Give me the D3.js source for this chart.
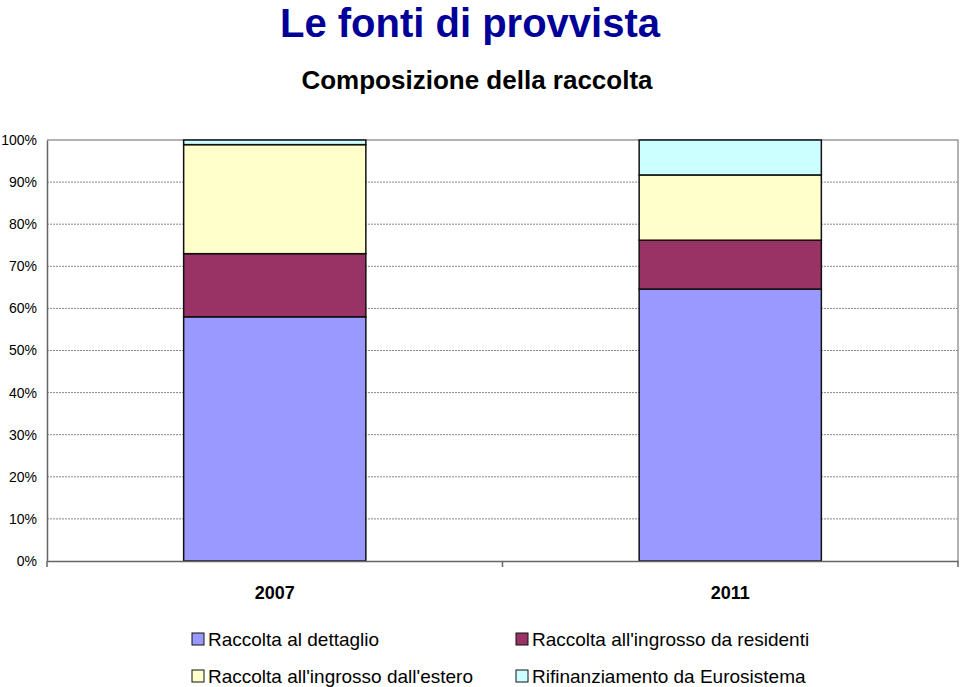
<!DOCTYPE html>
<html>
<head>
<meta charset="utf-8">
<script src="https://cdn.jsdelivr.net/npm/d3@7"></script>
<style>
  body { margin: 0; background: #fff; }
  text { font-family: "Liberation Sans", Arial, sans-serif; }
</style>
</head>
<body>
<svg class="chart" width="960" height="687"></svg>
<script>
const years = ['2007', '2011'];
const series = [
  'Raccolta al dettaglio',
  "Raccolta all'ingrosso da residenti",
  "Raccolta all'ingrosso dall'estero",
  'Rifinanziamento da Eurosistema'
];
const colors = ['#9999ff', '#993366', '#ffffcc', '#ccffff'];
// percentage shares, per series, per year
const dettaglio = [58.0, 64.6];
const residenti = [15.0, 11.6];
const estero = [25.9, 15.5];
const eurosistema = [1.1, 8.3];
const yTicks = [0, 10, 20, 30, 40, 50, 60, 70, 80, 90, 100];

const svg = d3.select('.chart');
const margin = { left: 47, right: 2, top: 140, bottom: 126 };
const [width, height] = [960, 687];

const rows = years.map((year, i) => ({
  year,
  [series[0]]: dettaglio[i],
  [series[1]]: residenti[i],
  [series[2]]: estero[i],
  [series[3]]: eurosistema[i]
}));
const stacked = d3.stack().keys(series)(rows);

const x = d3.scaleBand().domain(years)
  .range([margin.left, width - margin.right])
  .paddingInner(0).paddingOuter(0);
const y = d3.scaleLinear().domain([0, 100]).range([height - margin.bottom, margin.top]);
const barW = x.bandwidth() * 0.4;

svg.append('text')
  .attr('x', 470).attr('y', 37)
  .attr('text-anchor', 'middle')
  .style('font-size', '40px').style('font-weight', 'bold').style('fill', '#000099')
  .text('Le fonti di provvista');

svg.append('text')
  .attr('x', 477).attr('y', 89)
  .attr('text-anchor', 'middle')
  .style('font-size', '26px').style('font-weight', 'bold')
  .text('Composizione della raccolta');

// gridlines
svg.append('g').selectAll('line')
  .data(yTicks.filter(d => d > 0 && d < 100))
  .enter().append('line')
  .attr('x1', margin.left).attr('x2', width - margin.right)
  .attr('y1', d => y(d)).attr('y2', d => y(d))
  .attr('stroke', '#888').attr('stroke-dasharray', '2,1').attr('stroke-width', 1);

// plot frame top/right
svg.append('path')
  .attr('d', `M${margin.left},${y(100)}H${width - margin.right}V${y(0)}`)
  .attr('fill', 'none').attr('stroke', '#999').attr('stroke-width', 1.5);

// bars
svg.append('g').selectAll('g')
  .data(stacked)
  .enter().append('g')
  .attr('fill', (d, i) => colors[i])
  .selectAll('rect')
  .data(d => d)
  .enter().append('rect')
  .attr('x', d => x(d.data.year) + (x.bandwidth() - barW) / 2)
  .attr('width', barW)
  .attr('y', d => y(d[1]))
  .attr('height', d => y(d[0]) - y(d[1]))
  .attr('stroke', '#111').attr('stroke-width', 1.5);

// y axis
const yAxis = svg.append('g')
  .attr('transform', `translate(${margin.left},0)`)
  .call(d3.axisLeft(y).tickValues(yTicks).tickFormat(d => d + '%').tickSize(0).tickPadding(10));
yAxis.select('.domain').attr('stroke', '#666').attr('stroke-width', 1.5);
yAxis.selectAll('text').style('font-size', '14px').style('fill', '#000')
  .style('font-family', '"Liberation Sans", Arial, sans-serif');

// x axis
const xAxis = svg.append('g')
  .attr('transform', `translate(0,${y(0)})`)
  .call(d3.axisBottom(x).tickSize(0).tickPadding(25));
xAxis.select('.domain').attr('stroke', '#666').attr('stroke-width', 1.5);
xAxis.selectAll('text').style('font-size', '18px').style('font-weight', 'bold').style('fill', '#000')
  .style('font-family', '"Liberation Sans", Arial, sans-serif');
svg.append('g').selectAll('line')
  .data(x.domain().concat(null))
  .enter().append('line')
  .attr('x1', d => d === null ? width - margin.right : x(d))
  .attr('x2', d => d === null ? width - margin.right : x(d))
  .attr('y1', y(0)).attr('y2', y(0) + 6)
  .attr('stroke', '#666').attr('stroke-width', 1.5);

// legend
const legendPos = [[192, 633], [516, 633], [192, 670], [516, 670]];
const legend = svg.append('g').selectAll('g')
  .data(series)
  .enter().append('g')
  .attr('transform', (d, i) => `translate(${legendPos[i][0]},${legendPos[i][1]})`);
legend.append('rect')
  .attr('width', 12).attr('height', 12)
  .attr('fill', (d, i) => colors[i])
  .attr('stroke', '#111').attr('stroke-width', 1);
legend.append('text')
  .attr('x', 16).attr('y', 13)
  .style('font-size', '19px')
  .text(d => d);
</script>
</body>
</html>
